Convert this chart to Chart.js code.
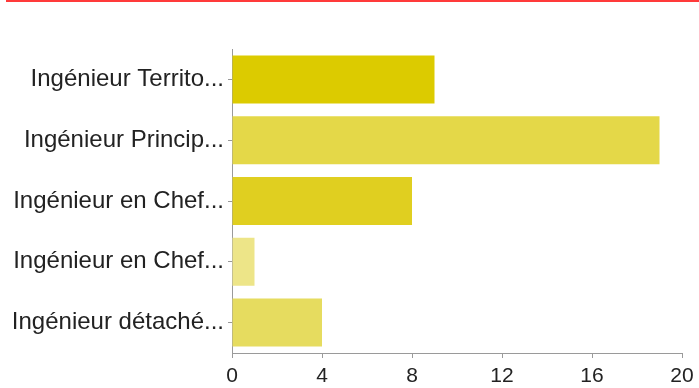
<!DOCTYPE html>
<html>
<head>
<meta charset="utf-8">
<script src="https://cdn.jsdelivr.net/npm/chart.js@4/dist/chart.umd.min.js"></script>
<style>
  html, body { margin: 0; padding: 0; background: #fff; }
  #wrap { position: relative; width: 699px; height: 388px; overflow: hidden; }
  .rule { position: absolute; left: 6px; right: 0; top: 0; height: 2px; background: #ff3a3a; }
  canvas { position: absolute; left: 0; top: 0; }
</style>
</head>
<body>
<div id="wrap">
  <div class="rule"></div>
  <canvas id="myChart" width="699" height="388"></canvas>
</div>
<script>
// Data

const categories = [
  "Ingénieur Territo...",
  "Ingénieur Princip...",
  "Ingénieur en Chef...",
  "Ingénieur en Chef...",
  "Ingénieur détaché..."
];
const counts = [9, 19, 8, 1, 4];
const barColors = ["#dccb00", "#e4d848", "#e0cf20", "#ede588", "#e6dc5f"];
const xTicks = [0, 4, 8, 12, 16, 20];

// Chart

const axisGray = "#9a9a9a";
const fontFamily = "'Liberation Sans', Arial, sans-serif";

const data = {
  labels: categories,
  datasets: [
    {
      data: counts,
      backgroundColor: barColors,
      borderWidth: 0,
      categoryPercentage: 1,
      barPercentage: 0.79,
    },
  ],
};

const config = {
  type: "bar",
  data,
  options: {
    indexAxis: "y",
    responsive: false,
    animation: false,
    layout: { padding: { top: 49, right: 17, bottom: 0, left: 0 } },
    plugins: { legend: { display: false }, tooltip: { enabled: false } },
    scales: {
      x: {
        min: 0,
        max: 20,
        afterBuildTicks: (scale) => {
          scale.ticks = xTicks.map((v) => ({ value: v }));
        },
        afterFit: (scale) => {
          scale.height = 35;
          scale.paddingLeft = 0;
          scale.paddingRight = 0;
        },
        border: { color: axisGray, width: 1 },
        grid: { drawOnChartArea: false, color: axisGray, tickLength: 5 },
        ticks: { color: "#222", font: { family: fontFamily, size: 21 }, padding: 6 },
      },
      y: {
        afterFit: (scale) => {
          scale.width = 232;
        },
        border: { color: axisGray, width: 1 },
        grid: { drawOnChartArea: false, color: axisGray, tickLength: 4, offset: false },
        ticks: { color: "#222", font: { family: fontFamily, size: 24 }, padding: 4 },
      },
    },
  },
};

const myChart = new Chart(document.getElementById("myChart"), config);
</script>
</body>
</html>
